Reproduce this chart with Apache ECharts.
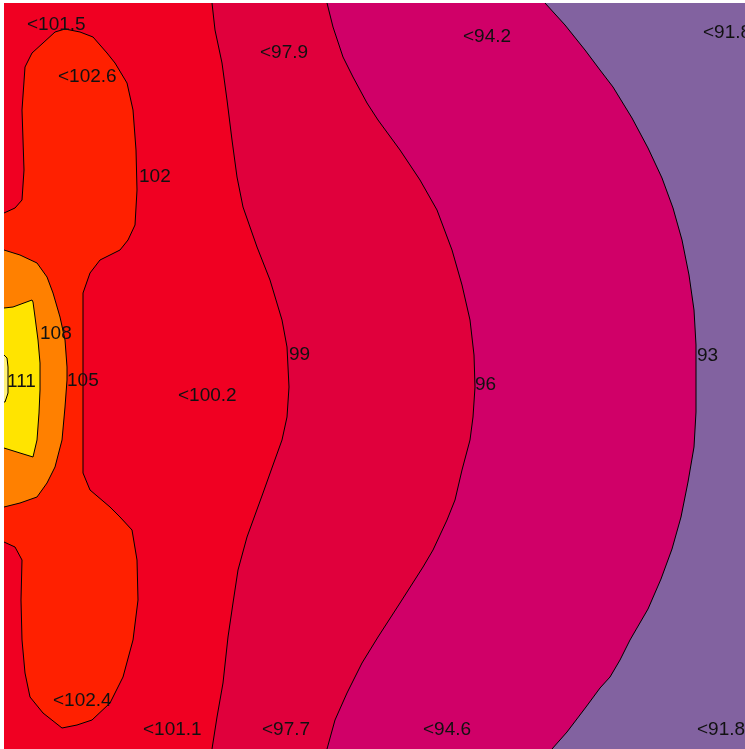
<!DOCTYPE html>
<html>
<head>
<meta charset="utf-8">
<script src="https://cdn.jsdelivr.net/npm/echarts@6/dist/echarts.min.js"></script>
<style>
html,body{margin:0;padding:0;background:#fff;}
#chart{width:745px;height:749px;}
</style>
</head>
<body>
<div id="chart"></div>
<script>
// Contour levels (boundaries between bands)
var levels = [93, 96, 99, 102, 105, 108, 111];
// Band colours: below 93, 93-96, 96-99, 99-102, 102-105, 105-108, 108-111, above 111
var bandColors = ['#8262A0', '#D00068', '#E0003C', '#F00022', '#FF2000', '#FF8000', '#FFE400', '#FFF27A'];

// Contour lines (x, y in plot units)
var c93 = [[545,3],[565,25],[585,50],[600,70],[613,87],[632,118],[648,148],[662,178],[673,208],[682,240],[689,275],[694,310],[696,345],[696,378],[696,412],[694,447],[688,482],[681,517],[672,549],[661,579],[648,609],[630,640],[620,660],[610,677],[600,688],[586,707],[567,732],[552,749]];
var c96 = [[327,3],[333,27],[343,57],[353,77],[367,103],[378,120],[400,150],[420,180],[437,210],[452,250],[462,285],[470,320],[474,355],[475,387],[473,417],[470,440],[462,470],[455,500],[447,520],[433,550],[423,567],[400,603],[378,637],[362,663],[347,693],[335,720],[327,749]];
var c99 = [[212,3],[215,30],[222,63],[227,100],[232,140],[237,177],[243,207],[257,247],[270,280],[282,320],[287,347],[289,387],[287,417],[282,440],[273,465],[263,493],[247,537],[238,570],[233,603],[228,637],[223,683],[217,717],[212,749]];
var c102 = [[4,213],[15,208],[22,200],[24,170],[22,110],[25,67],[32,53],[43,43],[55,32],[65,29],[80,32],[93,37],[107,53],[115,63],[127,83],[133,110],[136,150],[137,190],[135,225],[128,240],[120,250],[100,260],[90,273],[83,293],[83,473],[90,490],[110,507],[120,517],[132,530],[137,560],[138,600],[133,640],[123,677],[110,703],[92,720],[77,725],[62,728],[43,713],[30,697],[25,673],[22,640],[21,600],[22,560],[15,547],[4,542]];
var c105 = [[4,250],[20,255],[37,263],[47,277],[53,293],[60,317],[65,340],[67,367],[67,380],[65,407],[62,440],[55,467],[47,483],[37,497],[20,503],[4,507]];
var c108 = [[4,308],[13,307],[32,300],[33,302],[35,317],[38,340],[40,363],[40,390],[39,413],[37,440],[33,457],[20,453],[4,448]];
var c111 = [[4,355],[7,358],[8,367],[8,393],[5,402],[4,402]];
var contours = [c93, c96, c99, c102, c105, c108, c111];
// whether the region above the level is closed along the left side of the plot
var closeLeft = [true, true, true, false, false, false, false];

// Labels: text, x (left), y (middle)
var labelTexts = ['<101.5','<102.6','102','108','111','105','<100.2','99','96','93','<97.9','<94.2','<91.8','<102.4','<101.1','<97.7','<94.6','<91.8'];
var labelX = [27,58,139,40,7,67,178,289,475,697,260,463,703,53,143,262,423,697];
var labelY = [25,77,177,334,382,381,396,355,385,356,53,37,33,701,730,730,730,730];

var xMin = 4, xMax = 745, yMin = 3, yMax = 749;

var chart = echarts.init(document.getElementById('chart'));

function regionItem(params, api) {
  var i = params.dataIndex;
  var pts = contours[i].slice();
  if (closeLeft[i]) { pts.push([xMin, yMax]); pts.push([xMin, yMin]); }
  var poly = pts.map(function (p) { return api.coord(p); });
  var line = contours[i].map(function (p) { return api.coord(p); });
  return {
    type: 'group',
    children: [
      { type: 'polygon', shape: { points: poly }, style: { fill: bandColors[i + 1], stroke: null } },
      { type: 'polyline', shape: { points: line }, style: { fill: null, stroke: '#000', lineWidth: 1 } }
    ]
  };
}

function labelItem(params, api) {
  var i = params.dataIndex;
  var p = api.coord([labelX[i], labelY[i]]);
  return {
    type: 'text',
    x: p[0], y: p[1],
    style: { text: labelTexts[i], font: '19px "Liberation Sans", Arial, sans-serif', fill: '#111', textAlign: 'left', textVerticalAlign: 'middle' }
  };
}

chart.setOption({
  animation: false,
  backgroundColor: '#fff',
  grid: { left: 4, top: 3, right: 0, bottom: 0, show: true, backgroundColor: bandColors[0], borderWidth: 0 },
  xAxis: { type: 'value', min: xMin, max: xMax, show: false },
  yAxis: { type: 'value', min: yMin, max: yMax, inverse: true, show: false },
  series: [
    { type: 'custom', renderItem: regionItem, data: levels, clip: true, silent: true },
    { type: 'custom', renderItem: labelItem, data: labelTexts.map(function (t, i) { return [labelX[i], labelY[i]]; }), clip: true, silent: true, z: 5 }
  ]
});
</script>
</body>
</html>
